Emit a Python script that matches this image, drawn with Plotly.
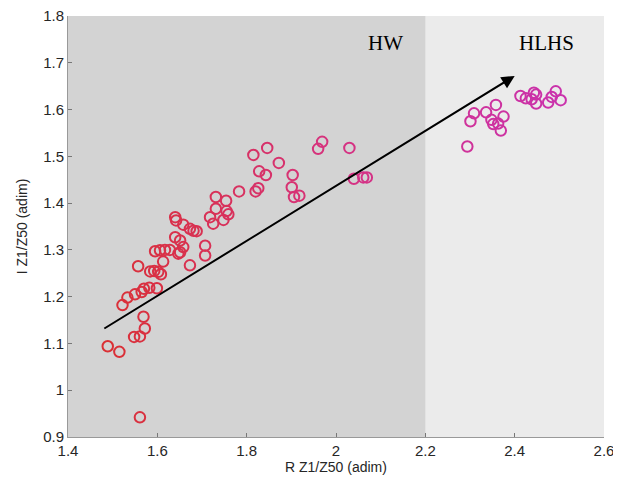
import plotly.graph_objects as go

r_vals = [1.489, 1.515, 1.569, 1.572, 1.548, 1.561, 1.561,
          1.522, 1.533, 1.550, 1.565, 1.570, 1.582, 1.599, 1.557, 1.584, 1.593, 1.602, 1.608,
          1.613, 1.595, 1.606, 1.617, 1.628, 1.640, 1.642, 1.658, 1.673, 1.688, 1.640, 1.651,
          1.658, 1.651, 1.647, 1.673, 1.707, 1.707, 1.681,
          1.815, 1.846, 1.872, 1.828, 1.843, 1.783, 1.820, 1.826, 1.903, 1.901, 1.906, 1.918,
          1.960, 1.969, 2.030, 2.040, 2.061, 2.069, 1.731, 1.754, 1.731, 1.755, 1.759, 1.748,
          1.718, 1.725,
          2.294, 2.301, 2.309, 2.336, 2.358, 2.348, 2.352, 2.363, 2.375, 2.369,
          2.413, 2.425, 2.443, 2.448, 2.438, 2.448, 2.475, 2.483, 2.492, 2.503]
i_vals = [1.094, 1.082, 1.157, 1.132, 1.114, 1.115, 0.942,
          1.182, 1.198, 1.205, 1.210, 1.217, 1.219, 1.218, 1.265, 1.254, 1.255, 1.253, 1.248,
          1.275, 1.297, 1.299, 1.300, 1.300, 1.370, 1.363, 1.354, 1.345, 1.340, 1.327, 1.320,
          1.306, 1.295, 1.292, 1.267, 1.309, 1.288, 1.341,
          1.503, 1.518, 1.486, 1.468, 1.460, 1.425, 1.425, 1.432, 1.460, 1.434, 1.413, 1.416,
          1.516, 1.531, 1.518, 1.452, 1.455, 1.455, 1.413, 1.405, 1.388, 1.383, 1.376, 1.364,
          1.370, 1.356,
          1.521, 1.575, 1.592, 1.594, 1.610, 1.578, 1.569, 1.570, 1.585, 1.555,
          1.629, 1.624, 1.636, 1.632, 1.622, 1.613, 1.615, 1.627, 1.639, 1.620]

x_ticks = [1.4, 1.6, 1.8, 2.0, 2.2, 2.4, 2.6]
x_tick_text = ["1.4", "1.6", "1.8", "2", "2.2", "2.4", "2.6"]
y_ticks = [0.9, 1.0, 1.1, 1.2, 1.3, 1.4, 1.5, 1.6, 1.7, 1.8]
y_tick_text = ["0.9", "1", "1.1", "1.2", "1.3", "1.4", "1.5", "1.6", "1.7", "1.8"]

region_split = 2.2
arrow_start = (1.478, 1.130)
arrow_end = (2.400, 1.672)

fig = go.Figure()
fig.add_trace(go.Scatter(
    x=r_vals, y=i_vals, mode="markers",
    marker=dict(symbol="circle-open", size=10.5,
                color=r_vals, cmin=1.49, cmax=2.5,
                colorscale=[[0, "rgb(218,48,52)"], [0.5, "rgb(214,50,128)"], [1, "rgb(202,50,172)"]],
                line=dict(width=2)),
    showlegend=False, hoverinfo="x+y"))

fig.add_shape(type="rect", xref="x", yref="y", x0=1.4, x1=region_split, y0=0.9, y1=1.8,
              fillcolor="#d3d3d3", line=dict(width=0), layer="below")

fig.add_annotation(x=arrow_end[0], y=arrow_end[1], ax=arrow_start[0], ay=arrow_start[1],
                   xref="x", yref="y", axref="x", ayref="y", text="",
                   showarrow=True, arrowhead=2, arrowsize=1.3, arrowwidth=2, arrowcolor="black")

fig.add_annotation(x=2.11, y=1.742, xref="x", yref="y", text="HW", showarrow=False,
                   font=dict(family="Liberation Serif", size=21, color="black"))
fig.add_annotation(x=2.472, y=1.742, xref="x", yref="y", text="HLHS", showarrow=False,
                   font=dict(family="Liberation Serif", size=21, color="black"))

axis_common = dict(showgrid=False, zeroline=False, ticks="inside", ticklen=4,
                   tickcolor="#777777", showline=True, linecolor="#999999", linewidth=1,
                   tickfont=dict(family="Liberation Sans", size=15, color="#262626"),
                   mirror=False, automargin=False, ticklabeloverflow="allow")

fig.update_xaxes(range=[1.4, 2.6], tickvals=x_ticks, ticktext=x_tick_text,
                 title=dict(text="R Z1/Z50 (adim)", font=dict(family="Liberation Sans", size=14, color="#262626"),
                            standoff=2), **axis_common)
fig.update_yaxes(range=[0.9, 1.8], tickvals=y_ticks, ticktext=y_tick_text,
                 title=dict(text="I Z1/Z50 (adim)", font=dict(family="Liberation Sans", size=14, color="#262626"),
                            standoff=12), **axis_common)

fig.update_layout(width=613, height=477, margin=dict(l=60, r=17, t=8, b=48),
                  plot_bgcolor="#ebebeb", paper_bgcolor="white")

fig.write_html("out.html")
